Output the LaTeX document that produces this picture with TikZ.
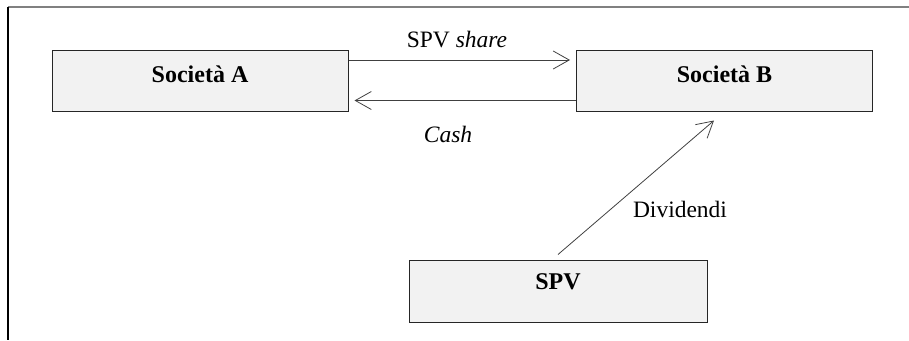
\documentclass[tikz,border=0pt]{standalone}
\usepackage{fontspec}
\setmainfont{Liberation Serif}
\newfontfamily\diagfont{Liberation Serif}
\usetikzlibrary{arrows.meta}
\definecolor{boxfill}{HTML}{F2F2F2}
\definecolor{boxline}{HTML}{262626}
\definecolor{arrline}{HTML}{404040}
\definecolor{frametop}{HTML}{808080}
\tikzset{
  boxnode/.style={draw=boxline, line width=1pt, fill=boxfill, minimum width=296pt, minimum height=61pt,
    inner sep=0pt, font=\diagfont\fontsize{24}{28}\selectfont\bfseries, text height=16pt, text depth=13pt},
  spvbox/.style={boxnode, minimum width=298pt, minimum height=62pt, text height=16pt, text depth=20pt},
  flow/.style={draw=arrline, line width=0.8pt, -{Straight Barb[length=16pt,width=18pt,line width=0.8pt]}},
  lbl/.style={font=\diagfont\fontsize{23.5}{28}\selectfont, anchor=base, inner sep=0pt}
}
\begin{document}
\begin{tikzpicture}[x=1pt,y=-1pt]
\useasboundingbox (0,0) rectangle (909,340);
% frame
\draw[frametop, line width=2pt] (8,7) -- (909,7);
\draw[black, line width=1.3pt] (8,7) -- (8,340);
% boxes
\node[boxnode] (A) at (200,80.5) {Società A};
\node[boxnode] (B) at (724.5,80.5) {Società B};
\node[spvbox] (S) at (558,291) {SPV};
% arrows
\draw[flow] ([yshift=-10.5pt]A.north east) -- ([xshift=-6pt,yshift=-10.5pt]B.north west);
\draw[flow] ([yshift=11pt]B.south west) -- ([xshift=6pt,yshift=11pt]A.south east);
\draw[flow] ([yshift=5pt]S.north) -- ([xshift=-10.5pt,yshift=-9pt]B.south);
% labels
\node[lbl] (l1) at (457,47) {SPV \textit{share}};
\node[lbl] (l2) at (448,142) {\textit{Cash}};
\node[lbl] (l3) at (680,217) {Dividendi};
\end{tikzpicture}
\end{document}
